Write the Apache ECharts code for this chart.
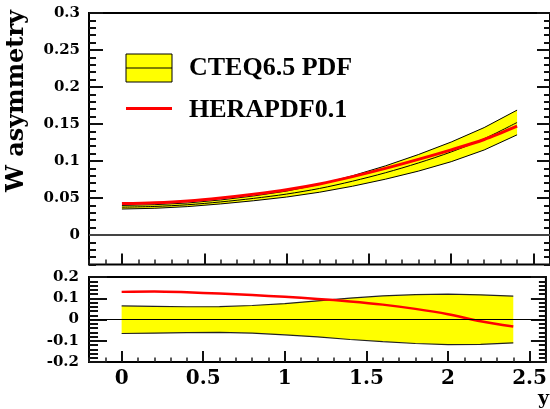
<!DOCTYPE html>
<html>
<head>
<meta charset="utf-8">
<script src="https://cdn.jsdelivr.net/npm/echarts/dist/echarts.min.js"></script>
<style>
  html, body { margin: 0; padding: 0; background: #fff; }
  #chart { width: 550px; height: 409px; }
</style>
</head>
<body>
<div id="chart"></div>
<script>
// Rapidity grid
const rapidity = [0.0, 0.2, 0.4, 0.6, 0.8, 1.0, 1.2, 1.4, 1.6, 1.8, 2.0, 2.2, 2.4];

// Upper panel: W asymmetry
const cteqCentral = [0.0375, 0.0385, 0.0408, 0.0446, 0.0494, 0.0552, 0.0628, 0.0726, 0.0840, 0.0972, 0.1122, 0.1300, 0.1520];
const cteqUpper   = [0.0399, 0.0409, 0.0432, 0.0473, 0.0527, 0.0593, 0.0683, 0.0799, 0.0933, 0.1086, 0.1256, 0.1451, 0.1687];
const cteqLower   = [0.0350, 0.0360, 0.0383, 0.0419, 0.0462, 0.0512, 0.0577, 0.0658, 0.0753, 0.0862, 0.0990, 0.1148, 0.1353];
const heraAsym    = [0.0424, 0.0436, 0.0460, 0.0500, 0.0551, 0.0611, 0.0689, 0.0788, 0.0899, 0.1021, 0.1150, 0.1290, 0.1470];

// Lower panel: relative deviation from the CTEQ central value
const relUpper = [0.064, 0.062, 0.060, 0.061, 0.066, 0.075, 0.088, 0.101, 0.111, 0.117, 0.119, 0.116, 0.110];
const relLower = [-0.066, -0.064, -0.062, -0.061, -0.064, -0.072, -0.082, -0.094, -0.104, -0.113, -0.118, -0.117, -0.110];
const relHera  = [0.130, 0.132, 0.128, 0.122, 0.115, 0.107, 0.097, 0.085, 0.070, 0.050, 0.025, -0.008, -0.033];

// Tick labels
const xTickValues = [0, 0.5, 1, 1.5, 2, 2.5];
const yUpperTickValues = [0, 0.05, 0.1, 0.15, 0.2, 0.25, 0.3];

const legendNames = ['CTEQ6.5 PDF', 'HERAPDF0.1'];

const AXIS_FONT = '"DejaVu Serif", serif';
const LEGEND_FONT = '"Liberation Serif", "Times New Roman", serif';
const YELLOW = '#ffff00';
const RED = '#ff0000';

const pts = (ys) => rapidity.map((x, i) => [x, ys[i]]);

// Filled band between two curves, placed through the axis scales
function bandSeries(xIdx, yIdx, hi, lo) {
  return {
    type: 'custom', xAxisIndex: xIdx, yAxisIndex: yIdx, silent: true, z: 1,
    data: [[rapidity[0], lo[0]]],
    renderItem: (params, api) => {
      const top = rapidity.map((x, i) => api.coord([x, hi[i]]));
      const bot = rapidity.map((x, i) => api.coord([x, lo[i]])).reverse();
      return { type: 'polygon', shape: { points: top.concat(bot) }, style: { fill: YELLOW, stroke: null } };
    }
  };
}

const chart = echarts.init(document.getElementById('chart'), null, { renderer: 'canvas' });

const X_MIN = -0.2, X_MAX = 2.6;
const noLine = { show: false, onZero: false };

function xMinorAxis(grid, len) {
  return {
    type: 'value', gridIndex: grid, position: 'bottom', min: X_MIN, max: X_MAX, interval: 0.1,
    axisLine: noLine, splitLine: { show: false }, axisLabel: { show: false },
    axisTick: { show: true, inside: true, length: len, lineStyle: { color: '#222', width: 1.5 } }
  };
}
function xMajorAxis(grid, labels) {
  return {
    type: 'value', gridIndex: grid, position: 'bottom', min: X_MIN, max: X_MAX,
    axisLine: noLine, splitLine: { show: false },
    axisTick: { show: true, inside: true, length: 11, customValues: xTickValues, lineStyle: { color: '#111', width: 2 } },
    axisLabel: labels ? {
      show: true, customValues: xTickValues, margin: 7,
      fontFamily: AXIS_FONT, fontWeight: 'bold', fontSize: 20, color: '#000'
    } : { show: false }
  };
}

const option = {
  animation: false,
  backgroundColor: '#fff',
  grid: [
    { left: 89, top: 13, width: 462, height: 251.5, show: true, borderColor: '#000', borderWidth: 2, backgroundColor: 'transparent' },
    { left: 89, top: 277, width: 462, height: 85, show: true, borderColor: '#000', borderWidth: 2, backgroundColor: 'transparent' }
  ],
  xAxis: [
    xMinorAxis(0, 5),
    xMajorAxis(0, false),
    xMinorAxis(1, 4.5),
    xMajorAxis(1, true)
  ],
  yAxis: [
    // upper panel, left minor ticks
    { type: 'value', gridIndex: 0, min: -0.04, max: 0.3, interval: 0.01, position: 'left',
      axisLine: noLine, splitLine: { show: false }, axisLabel: { show: false },
      axisTick: { show: true, inside: true, length: 7, lineStyle: { color: '#111', width: 2 } } },
    // upper panel, left major ticks + labels
    { type: 'value', gridIndex: 0, min: -0.04, max: 0.3, position: 'left',
      axisLine: noLine, splitLine: { show: false },
      axisTick: { show: true, inside: true, length: 14, customValues: yUpperTickValues, lineStyle: { color: '#111', width: 2 } },
      axisLabel: { show: true, customValues: yUpperTickValues, margin: 9,
        fontFamily: AXIS_FONT, fontWeight: 'bold', fontSize: 15, color: '#000' } },
    // upper panel, right minor ticks
    { type: 'value', gridIndex: 0, min: -0.04, max: 0.3, interval: 0.01, position: 'right',
      axisLine: noLine, splitLine: { show: false }, axisLabel: { show: false },
      axisTick: { show: true, inside: true, length: 6, lineStyle: { color: '#111', width: 2 } } },
    // upper panel, right major ticks
    { type: 'value', gridIndex: 0, min: -0.04, max: 0.3, position: 'right',
      axisLine: noLine, splitLine: { show: false }, axisLabel: { show: false },
      axisTick: { show: true, inside: true, length: 13, customValues: yUpperTickValues, lineStyle: { color: '#111', width: 2 } } },
    // lower panel, left
    { type: 'value', gridIndex: 1, min: -0.2, max: 0.2, interval: 0.1, position: 'left',
      axisLine: noLine, splitLine: { show: false },
      axisTick: { show: true, inside: true, length: 18, lineStyle: { color: '#111', width: 2 } },
      minorTick: { show: true, splitNumber: 5, length: 9, lineStyle: { color: '#111', width: 2 } },
      axisLabel: { show: true, margin: 10, fontFamily: AXIS_FONT, fontWeight: 'bold', fontSize: 15, color: '#000' } },
    // lower panel, right
    { type: 'value', gridIndex: 1, min: -0.2, max: 0.2, interval: 0.1, position: 'right',
      axisLine: noLine, splitLine: { show: false }, axisLabel: { show: false },
      axisTick: { show: true, inside: true, length: 15, lineStyle: { color: '#111', width: 2 } },
      minorTick: { show: true, splitNumber: 5, length: 7, lineStyle: { color: '#111', width: 2 } } }
  ],
  series: [
    // ---- upper panel ----
    bandSeries(1, 1, cteqUpper, cteqLower),
    { type: 'line', xAxisIndex: 1, yAxisIndex: 1, data: pts(cteqUpper), symbol: 'none',
      lineStyle: { color: '#000', width: 1 }, z: 3,
      markLine: { silent: true, symbol: ['none', 'none'], label: { show: false },
        lineStyle: { color: '#444', width: 2, type: 'solid' }, data: [{ yAxis: 0 }] } },
    { type: 'line', xAxisIndex: 1, yAxisIndex: 1, data: pts(cteqLower), symbol: 'none',
      lineStyle: { color: '#000', width: 1 }, z: 3 },
    { type: 'line', xAxisIndex: 1, yAxisIndex: 1, data: pts(cteqCentral), smooth: 0.3, symbol: 'none',
      lineStyle: { color: '#000', width: 1 }, z: 3 },
    { type: 'line', xAxisIndex: 1, yAxisIndex: 1, data: pts(heraAsym), smooth: 0.3, symbol: 'none',
      lineStyle: { color: RED, width: 3 }, z: 4 },

    // ---- lower panel ----
    bandSeries(3, 4, relUpper, relLower),
    { type: 'line', xAxisIndex: 3, yAxisIndex: 4, data: pts(relUpper), symbol: 'none',
      lineStyle: { color: '#222', width: 1.2 }, z: 3 },
    { type: 'line', xAxisIndex: 3, yAxisIndex: 4, data: pts(relLower), symbol: 'none',
      lineStyle: { color: '#222', width: 1.2 }, z: 3,
      markLine: { silent: true, symbol: ['none', 'none'], label: { show: false },
        lineStyle: { color: '#000', width: 1.2, type: 'solid' }, data: [{ yAxis: 0 }] } },
    { type: 'line', xAxisIndex: 3, yAxisIndex: 4, data: pts(relHera), smooth: 0.3, symbol: 'none',
      lineStyle: { color: RED, width: 2.5 }, z: 4 }
  ],
  graphic: [
    // y-axis title
    { type: 'text', x: 17, y: 101, rotation: Math.PI / 2,
      style: { text: 'W asymmetry', font: 'bold 24px ' + AXIS_FONT, fill: '#000', align: 'center', verticalAlign: 'middle' } },
    // x-axis title
    { type: 'text', x: 549, y: 399,
      style: { text: 'y', font: 'bold 19px ' + AXIS_FONT, fill: '#000', align: 'right', verticalAlign: 'middle' } },
    // legend entries
    { type: 'rect', shape: { x: 126, y: 54, width: 46, height: 28 },
      style: { fill: YELLOW, stroke: '#000', lineWidth: 1 } },
    { type: 'line', shape: { x1: 126, y1: 68, x2: 172, y2: 68 }, style: { stroke: '#000', lineWidth: 1 } },
    { type: 'text', x: 189, y: 68,
      style: { text: legendNames[0], font: 'bold 26px ' + LEGEND_FONT, fill: '#000', align: 'left', verticalAlign: 'middle' } },
    { type: 'line', shape: { x1: 126, y1: 108.5, x2: 172, y2: 108.5 }, style: { stroke: RED, lineWidth: 3 } },
    { type: 'text', x: 189, y: 110.5,
      style: { text: legendNames[1], font: 'bold 26px ' + LEGEND_FONT, fill: '#000', align: 'left', verticalAlign: 'middle' } }
  ]
};

chart.setOption(option);
</script>
</body>
</html>
